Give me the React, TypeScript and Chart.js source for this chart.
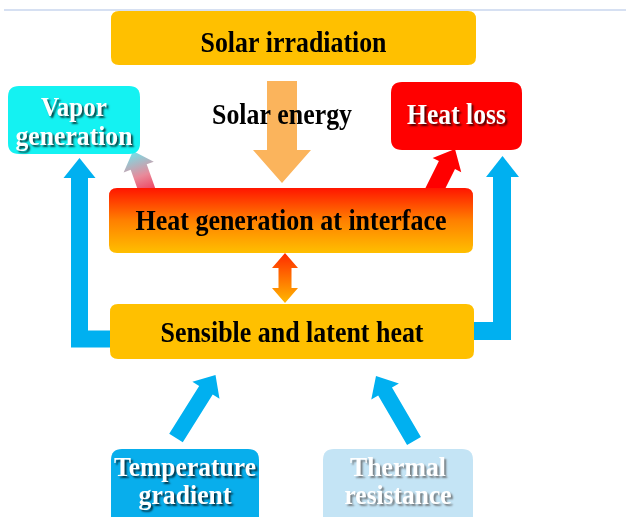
import React, { useEffect, useRef } from "react";
import { Chart, registerables } from "chart.js";

Chart.register(...registerables);

// Nodes (diagram coordinate units, origin top-left)
const nodeLabels = [
  "Solar irradiation",
  "Vapor\ngeneration",
  "Heat loss",
  "Heat generation at interface",
  "Sensible and latent heat",
  "Temperature\ngradient",
  "Thermal\nresistance",
];
const nodeLeft = [111, 8, 391, 109, 110, 111, 323];
const nodeRight = [476, 140, 522, 473, 474, 259, 473];
const nodeTop = [11, 86, 82, 188, 304, 449, 449];
const nodeBottom = [65, 154, 150, 253, 359, 540, 540];
const nodeFill = ["#FFC000", "#14F2F2", "#FF0000", "grad", "#FFC000", "#08AEEC", "#C4E4F5"];
const nodeTextColor = ["#000", "#fff", "#fff", "#000", "#000", "#fff", "#fff"];
const nodeLineWidths = [[186], [66, 117], [99], [311], [263], [142, 93], [96, 107]];

// Straight arrows: from -> to
const arrowFromX = [282, 149, 433, 176, 414];
const arrowFromY = [81, 196, 193, 438, 441];
const arrowToX = [282, 133, 455, 215.5, 376];
const arrowToY = [183, 151, 149, 375, 376];

const captionText = "Solar energy";

function rr(ctx: CanvasRenderingContext2D, x: number, y: number, w: number, h: number, r: number) {
  ctx.beginPath();
  ctx.moveTo(x + r, y);
  ctx.lineTo(x + w - r, y);
  ctx.quadraticCurveTo(x + w, y, x + w, y + r);
  ctx.lineTo(x + w, y + h - r);
  ctx.quadraticCurveTo(x + w, y + h, x + w - r, y + h);
  ctx.lineTo(x + r, y + h);
  ctx.quadraticCurveTo(x, y + h, x, y + h - r);
  ctx.lineTo(x, y + r);
  ctx.quadraticCurveTo(x, y, x + r, y);
  ctx.closePath();
}

function arrowPath(
  ctx: CanvasRenderingContext2D,
  x1: number, y1: number, x2: number, y2: number,
  sw: number, hw: number, hl: number, dbl = false
) {
  const dx = x2 - x1, dy = y2 - y1;
  const L = Math.hypot(dx, dy);
  const ux = dx / L, uy = dy / L;
  const nx = -uy, ny = ux;
  const bx = x2 - ux * hl, by = y2 - uy * hl;
  const sx = dbl ? x1 + ux * hl : x1, sy = dbl ? y1 + uy * hl : y1;
  ctx.beginPath();
  if (dbl) {
    ctx.moveTo(x1, y1);
    ctx.lineTo(sx + nx * hw / 2, sy + ny * hw / 2);
  }
  ctx.lineTo(sx + nx * sw / 2, sy + ny * sw / 2);
  ctx.lineTo(bx + nx * sw / 2, by + ny * sw / 2);
  ctx.lineTo(bx + nx * hw / 2, by + ny * hw / 2);
  ctx.lineTo(x2, y2);
  ctx.lineTo(bx - nx * hw / 2, by - ny * hw / 2);
  ctx.lineTo(bx - nx * sw / 2, by - ny * sw / 2);
  ctx.lineTo(sx - nx * sw / 2, sy - ny * sw / 2);
  if (dbl) ctx.lineTo(sx - nx * hw / 2, sy - ny * hw / 2);
  ctx.closePath();
}

const diagramPlugin = {
  id: "diagram",
  afterDraw(chart: any) {
    const ctx: CanvasRenderingContext2D = chart.ctx;
    const xs = chart.scales.x, ys = chart.scales.y;
    const X = (v: number) => xs.getPixelForValue(v);
    const Y = (v: number) => ys.getPixelForValue(v);
    ctx.save();

    // top rule
    ctx.strokeStyle = "#C8D6EE";
    ctx.lineWidth = 1.5;
    ctx.beginPath();
    ctx.moveTo(X(4), Y(10));
    ctx.lineTo(X(626), Y(10));
    ctx.stroke();

    // elbow arrows (blue)
    ctx.strokeStyle = "#00B0F0";
    ctx.fillStyle = "#00B0F0";
    ctx.lineJoin = "miter";
    ctx.lineCap = "butt";
    ctx.lineWidth = 17;
    ctx.beginPath();
    ctx.moveTo(X(111), Y(339));
    ctx.lineTo(X(79.5), Y(339));
    ctx.lineTo(X(79.5), Y(176));
    ctx.stroke();
    ctx.beginPath();
    ctx.moveTo(X(63.5), Y(178));
    ctx.lineTo(X(79.5), Y(158));
    ctx.lineTo(X(95.5), Y(178));
    ctx.closePath();
    ctx.fill();
    ctx.lineWidth = 18;
    ctx.beginPath();
    ctx.moveTo(X(470), Y(331));
    ctx.lineTo(X(502), Y(331));
    ctx.lineTo(X(502), Y(175));
    ctx.stroke();
    ctx.beginPath();
    ctx.moveTo(X(486), Y(177));
    ctx.lineTo(X(502.5), Y(156));
    ctx.lineTo(X(519), Y(177));
    ctx.closePath();
    ctx.fill();

    // straight arrows
    const specs = [
      { sw: 30, hw: 58, hl: 33 },
      { sw: 17, hw: 32, hl: 17 },
      { sw: 18, hw: 32, hl: 18 },
      { sw: 16, hw: 32, hl: 18 },
      { sw: 16, hw: 32, hl: 18 },
    ];
    for (let i = 0; i < arrowFromX.length; i++) {
      const x1 = X(arrowFromX[i]), y1 = Y(arrowFromY[i]);
      const x2 = X(arrowToX[i]), y2 = Y(arrowToY[i]);
      let fill: any;
      if (i === 0) fill = "#FBB45C";
      else if (i === 1) {
        const g = ctx.createLinearGradient(x1, y1, x2, y2);
        g.addColorStop(0, "#F03050");
        g.addColorStop(0.45, "#E88A9A");
        g.addColorStop(1, "#70E4EC");
        fill = g;
      } else if (i === 2) fill = "#FF0000";
      else fill = "#00B0F0";
      ctx.fillStyle = fill;
      arrowPath(ctx, x1, y1, x2, y2, specs[i].sw, specs[i].hw, specs[i].hl);
      ctx.fill();
    }

    // double arrow
    {
      const y1 = Y(253), y2 = Y(303);
      const g = ctx.createLinearGradient(0, y1, 0, y2);
      g.addColorStop(0, "#FF2A00");
      g.addColorStop(1, "#FFB800");
      ctx.fillStyle = g;
      arrowPath(ctx, X(285), y1, X(285), y2, 13, 26, 15, true);
      ctx.fill();
    }

    // boxes
    for (let i = 0; i < nodeLabels.length; i++) {
      const x = X(nodeLeft[i]), y = Y(nodeTop[i]);
      const w = X(nodeRight[i]) - x, h = Y(nodeBottom[i]) - y;
      if (nodeFill[i] === "grad") {
        const g = ctx.createLinearGradient(0, y, 0, y + h);
        g.addColorStop(0, "#FF1500");
        g.addColorStop(0.5, "#FF8000");
        g.addColorStop(1, "#FFBF00");
        ctx.fillStyle = g;
      } else ctx.fillStyle = nodeFill[i];
      rr(ctx, x, y, w, h, i === 0 || i === 3 || i === 4 ? 8 : 11);
      ctx.fill();
    }

    // texts
    ctx.textAlign = "center";
    ctx.textBaseline = "alphabetic";
    for (let i = 0; i < nodeLabels.length; i++) {
      const lines = nodeLabels[i].split("\n");
      const cx = X((nodeLeft[i] + nodeRight[i]) / 2);
      const twoLine = lines.length > 1;
      const fs = twoLine ? 27 : i === 2 ? 29 : 30;
      ctx.font = `bold ${fs}px "Liberation Serif", "Times New Roman", serif`;
      const white = nodeTextColor[i] === "#fff";
      if (white) {
        ctx.shadowColor = i === 6 ? "rgba(90,90,90,0.75)" : "rgba(0,0,0,0.7)";
        ctx.shadowOffsetX = 2;
        ctx.shadowOffsetY = 2;
        ctx.shadowBlur = 2;
      } else {
        ctx.shadowColor = "transparent";
        ctx.shadowOffsetX = 0;
        ctx.shadowOffsetY = 0;
        ctx.shadowBlur = 0;
      }
      ctx.fillStyle = nodeTextColor[i];
      let baselines: number[];
      if (i === 0) baselines = [52];
      else if (i === 1) baselines = [116, 145];
      else if (i === 2) baselines = [124];
      else if (i === 3) baselines = [230];
      else if (i === 4) baselines = [342];
      else baselines = [476, 504];
      lines.forEach((ln, k) => {
        ctx.fillText(ln, cx, Y(baselines[k]), nodeLineWidths[i][k]);
      });
    }
    ctx.shadowColor = "transparent";
    ctx.shadowOffsetX = 0;
    ctx.shadowOffsetY = 0;
    ctx.shadowBlur = 0;
    ctx.fillStyle = "#000";
    ctx.font = `bold 30px "Liberation Serif", "Times New Roman", serif`;
    ctx.fillText(captionText, X(282), Y(124), 140);

    ctx.restore();
  },
};

export default function App() {
  const ref = useRef<HTMLCanvasElement>(null);
  useEffect(() => {
    document.body.style.margin = "0";
    document.body.style.background = "#fff";
    const canvas = ref.current!;
    const centers = nodeLabels.map((_, i) => ({
      x: (nodeLeft[i] + nodeRight[i]) / 2,
      y: (nodeTop[i] + nodeBottom[i]) / 2,
    }));
    const chart = new Chart(canvas, {
      type: "scatter",
      data: {
        datasets: [{ data: centers, pointRadius: 0, pointHoverRadius: 0 }],
      },
      options: {
        animation: false,
        responsive: true,
        maintainAspectRatio: false,
        events: [],
        layout: { padding: 0 },
        plugins: { legend: { display: false }, tooltip: { enabled: false } },
        scales: {
          x: { type: "linear", min: 0, max: 626, display: false },
          y: { type: "linear", min: 0, max: 517, reverse: true, display: false },
        },
      },
      plugins: [diagramPlugin],
    });
    return () => chart.destroy();
  }, []);
  return (
    <div style={{ width: 626, height: 517, position: "relative" }}>
      <canvas ref={ref} />
    </div>
  );
}
